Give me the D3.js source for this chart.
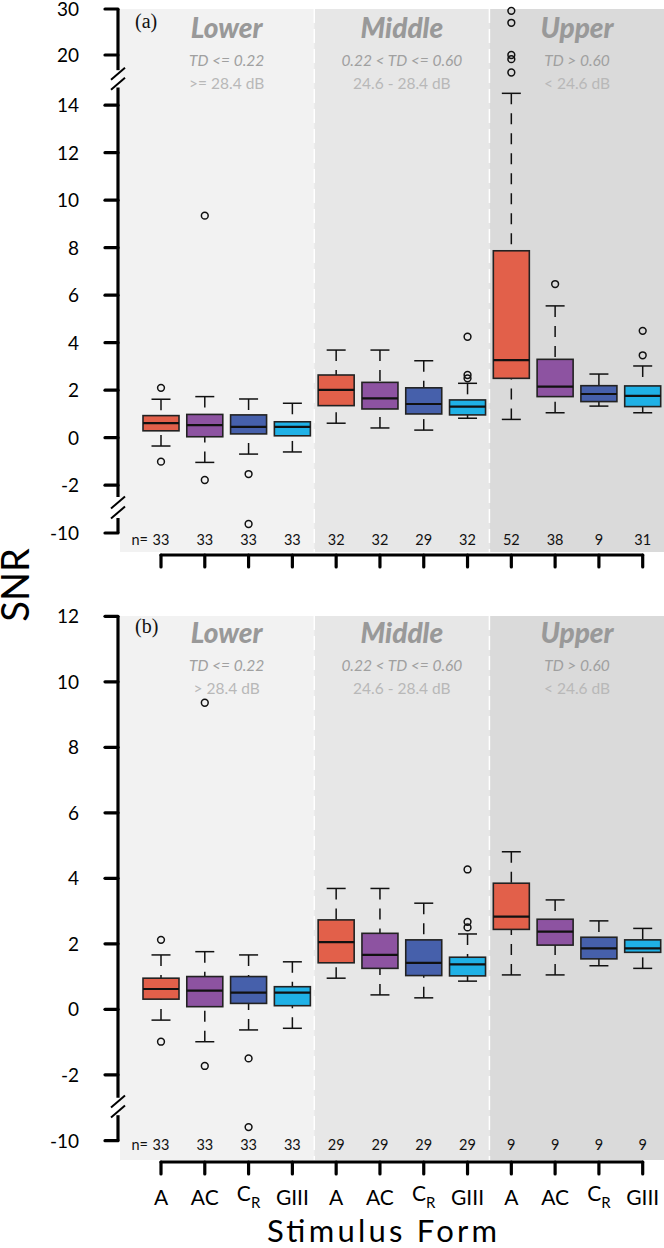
<!DOCTYPE html>
<html><head><meta charset="utf-8">
<script src="https://cdn.jsdelivr.net/npm/d3@7"></script>
<style>body{margin:0;background:#fff}svg{display:block}</style>
</head><body>
<script>
// ---------- data ----------
const forms = ["A","AC","CR","GIII"];
const regions = ["Lower","Middle","Upper"];
const tdLabels = ["TD <= 0.22","0.22 < TD <= 0.60","TD > 0.60"];
const dbLabelsA = [">= 28.4 dB","24.6 - 28.4 dB","< 24.6 dB"];
const dbLabelsB = ["> 28.4 dB","24.6 - 28.4 dB","< 24.6 dB"];
const yTicksA = [30,20,14,12,10,8,6,4,2,0,-2,-10];
const yTicksB = [12,10,8,6,4,2,0,-2,-10];

// panel (a): groups ordered Lower A,AC,CR,GIII, Middle ..., Upper ...
const loA  = [-0.35,-1.04,-0.69,-0.60, 0.61,0.41,0.32,0.82, 0.77,1.05,1.33,1.05];
const q1A  = [0.29,0.04,0.16,0.08, 1.35,1.21,1.00,0.96, 2.50,1.73,1.52,1.31];
const medA = [0.61,0.53,0.46,0.46, 2.01,1.66,1.42,1.31, 3.27,2.15,1.84,1.76];
const q3A  = [0.93,0.98,0.96,0.67, 2.64,2.33,2.10,1.59, 7.87,3.30,2.19,2.18];
const hiA  = [1.62,1.73,1.63,1.45, 3.69,3.69,3.24,2.29, 14.5,5.55,2.68,3.02];
const outA = [[2.1,-1.01],[9.35,-1.78],[-1.53,-9.7],[], [],[],[],[4.25,2.64,2.5], [29.6,27.0,20.0,19.1,16.2],[6.47],[],[4.5,3.47]];
const nA   = [33,33,33,33,32,32,29,32,52,38,9,31];

// panel (b)
const loB  = [-0.33,-0.99,-0.63,-0.58, 0.95,0.44,0.35,0.86, 1.05,1.05,1.33,1.25];
const q1B  = [0.31,0.08,0.18,0.11, 1.42,1.25,1.03,1.02, 2.44,1.96,1.54,1.74];
const medB = [0.62,0.57,0.51,0.51, 2.05,1.66,1.42,1.37, 2.83,2.37,1.86,1.86];
const q3B  = [0.95,1.00,1.00,0.69, 2.73,2.32,2.12,1.59, 3.85,2.75,2.20,2.12];
const hiB  = [1.66,1.76,1.66,1.45, 3.69,3.69,3.24,2.30, 4.81,3.34,2.70,2.47];
const outB = [[2.12,-0.99],[9.36,-1.73],[-1.5,-9.6],[], [],[],[],[4.27,2.67,2.5], [],[],[],[]];
const nB   = [33,33,33,33,29,29,29,29,9,9,9,9];

// ---------- styles ----------
const fills = ["#e2604a","#8d53a1","#4660ab","#1fb1e6"];
const regionBg = ["#f2f2f2","#e7e7e7","#dadada"];
const FONT = "Lato, 'Open Sans', sans-serif";

const W = 664, H = 1248;
const svg = d3.select("body").append("svg").attr("width", W).attr("height", H)
  .style("font-family", FONT);

const x = d3.scaleLinear().domain([0, 11]).range([161, 642.7]);
const boxW = 36, capW = 19;

function broken(segs) {
  return v => {
    for (const s of segs) if (v >= s.lo && v <= s.hi) return s.sc(v);
    return segs[1] ? segs[1].sc(v) : segs[0].sc(v);
  };
}

const panels = [
  {
    tag: "(a)", top: 9, bottom: 552, xAxisY: 555,
    ticks: yTicksA, db: dbLabelsA,
    lo: loA, q1: q1A, med: medA, q3: q3A, hi: hiA, out: outA, n: nA, nY: 545,
    headY: 38,
    segs: [
      {lo: -12, hi: -5, sc: d3.scaleLinear().domain([-10, -9]).range([533, 503])},
      {lo: -5, hi: 15, sc: d3.scaleLinear().domain([0, 14]).range([437.7, 105.2])},
      {lo: 15, hi: 40, sc: d3.scaleLinear().domain([20, 30]).range([55, 9])}
    ],
    axisParts: [[30, 16.7, 2], [14.75, -2.5, 1], [-9.5, -10, 0]]
  },
  {
    tag: "(b)", top: 616, bottom: 1160, xAxisY: 1162,
    ticks: yTicksB, db: dbLabelsB,
    lo: loB, q1: q1B, med: medB, q3: q3B, hi: hiB, out: outB, n: nB, nY: 1150,
    headY: 643,
    segs: [
      {lo: -12, hi: -5, sc: d3.scaleLinear().domain([-10, -9]).range([1140.7, 1106.7])},
      {lo: -5, hi: 15, sc: d3.scaleLinear().domain([0, 12]).range([1009.3, 616.3])}
    ],
    axisParts: [[12, -2.7, 1], [-9.25, -10, 0]]
  }
];

panels.forEach((p, pi) => {
  const y = broken(p.segs);
  const g = svg.append("g");
  const left = 120, right = 664;
  const edges = [left, x(3.5), x(7.5), right];

  regions.forEach((r, i) => {
    g.append("rect").attr("x", edges[i]).attr("y", p.top)
      .attr("width", edges[i+1]-edges[i]).attr("height", p.bottom - p.top)
      .attr("fill", regionBg[i]);
  });
  [1,2].forEach(i => {
    g.append("line").attr("x1", edges[i]).attr("x2", edges[i])
      .attr("y1", p.top).attr("y2", p.bottom)
      .attr("stroke", "#fff").attr("stroke-width", 1.5)
      .attr("stroke-dasharray", "14,6");
  });

  // headers
  regions.forEach((r, i) => {
    const cx = (x(i*4) + x(i*4+3)) / 2;
    g.append("text").attr("x", cx).attr("y", p.headY).attr("text-anchor", "middle")
      .attr("font-size", 28).attr("font-weight", 900).attr("font-style", "italic")
      .attr("fill", "#999").text(r);
    g.append("text").attr("x", cx).attr("y", p.headY + 28).attr("text-anchor", "middle")
      .attr("font-size", 15.5).attr("font-style", "italic")
      .attr("fill", "#a0a0a0").text(tdLabels[i]);
    g.append("text").attr("x", cx).attr("y", p.headY + 51).attr("text-anchor", "middle")
      .attr("font-size", 15.5)
      .attr("fill", "#b8b8b8").text(p.db[i]);
  });
  g.append("text").attr("x", 135).attr("y", p.headY - 10)
    .attr("font-family", "'Liberation Serif', 'DejaVu Serif', serif")
    .attr("font-size", 20).attr("fill", "#111").text(p.tag);

  // y axis
  p.axisParts.forEach(([a, b, si]) => {
    const sc = p.segs[si].sc;
    g.append("line").attr("x1", 118).attr("x2", 118)
      .attr("y1", sc(a)).attr("y2", sc(b))
      .attr("stroke", "#000").attr("stroke-width", 3.2);
  });
  for (let k = 0; k < p.axisParts.length - 1; k++) {
    const ya = p.segs[p.axisParts[k][2]].sc(p.axisParts[k][1]);
    const yb = p.segs[p.axisParts[k+1][2]].sc(p.axisParts[k+1][0]);
    const c = (ya + yb) / 2;
    [c - 5, c + 5].forEach(cc => {
      g.append("line").attr("x1", 111).attr("y1", cc + 6).attr("x2", 125).attr("y2", cc - 6)
        .attr("stroke", "#000").attr("stroke-width", 2);
    });
  }
  p.ticks.forEach(t => {
    const yy = y(t);
    g.append("line").attr("x1", 105).attr("x2", 118).attr("y1", yy).attr("y2", yy)
      .attr("stroke", "#000").attr("stroke-width", 3.2).attr("stroke-linecap", "round");
    g.append("text").attr("x", 79).attr("y", yy).attr("dy", "0.36em")
      .attr("text-anchor", "end").attr("font-size", 19).attr("fill", "#000").text(t);
  });

  // x axis
  g.append("line").attr("x1", x(0)).attr("x2", x(11))
    .attr("y1", p.xAxisY).attr("y2", p.xAxisY)
    .attr("stroke", "#000").attr("stroke-width", 3.2).attr("stroke-linecap", "round");
  d3.range(12).forEach(i => {
    g.append("line").attr("x1", x(i)).attr("x2", x(i))
      .attr("y1", p.xAxisY).attr("y2", p.xAxisY + 12)
      .attr("stroke", "#000").attr("stroke-width", 3.2).attr("stroke-linecap", "round");
  });

  // boxes
  d3.range(12).forEach(i => {
    const cx = x(i), col = fills[i % 4];
    const bg = g.append("g");
    [[p.hi[i], p.q3[i]], [p.lo[i], p.q1[i]]].forEach(([w, h]) => {
      bg.append("line").attr("x1", cx).attr("x2", cx).attr("y1", y(w)).attr("y2", y(h))
        .attr("stroke", "#111").attr("stroke-width", 1.5).attr("stroke-dasharray", "11,9");
      bg.append("line").attr("x1", cx - capW/2).attr("x2", cx + capW/2)
        .attr("y1", y(w)).attr("y2", y(w)).attr("stroke", "#111").attr("stroke-width", 1.5);
    });
    bg.append("rect").attr("x", cx - boxW/2).attr("y", y(p.q3[i]))
      .attr("width", boxW).attr("height", y(p.q1[i]) - y(p.q3[i]))
      .attr("fill", col).attr("stroke", "#222").attr("stroke-width", 1.6);
    bg.append("line").attr("x1", cx - boxW/2).attr("x2", cx + boxW/2)
      .attr("y1", y(p.med[i])).attr("y2", y(p.med[i]))
      .attr("stroke", "#111").attr("stroke-width", 2.2);
    p.out[i].forEach(o => {
      bg.append("circle").attr("cx", cx).attr("cy", y(o)).attr("r", 3.4)
        .attr("fill", "none").attr("stroke", "#111").attr("stroke-width", 1.5);
    });
    g.append("text").attr("x", cx).attr("y", p.nY).attr("text-anchor", "middle")
      .attr("font-size", 14.5).attr("fill", "#111").text(p.n[i]);
  });
  g.append("text").attr("x", 148).attr("y", p.nY).attr("text-anchor", "end")
    .attr("font-size", 14.5).attr("fill", "#111").text("n=");
});

// x tick labels (bottom panel only)
d3.range(12).forEach(i => {
  const f = forms[i % 4];
  const t = svg.append("text").attr("x", x(i)).attr("y", 1205).attr("text-anchor", "middle")
    .attr("font-size", 21).attr("fill", "#000");
  if (f === "CR") {
    t.append("tspan").attr("dy", -4).text("C");
    t.append("tspan").attr("font-size", 15).attr("dy", 7).text("R");
  } else t.text(f);
});

svg.append("text").attr("x", 382).attr("y", 1242).attr("text-anchor", "middle")
  .attr("font-size", 31).attr("fill", "#000")
  .attr("textLength", 230).attr("lengthAdjust", "spacing").text("Stimulus Form");
svg.append("text").attr("transform", "translate(29,585) rotate(-90)")
  .attr("text-anchor", "middle").attr("font-size", 38).attr("fill", "#000").text("SNR");
</script>
</body></html>
